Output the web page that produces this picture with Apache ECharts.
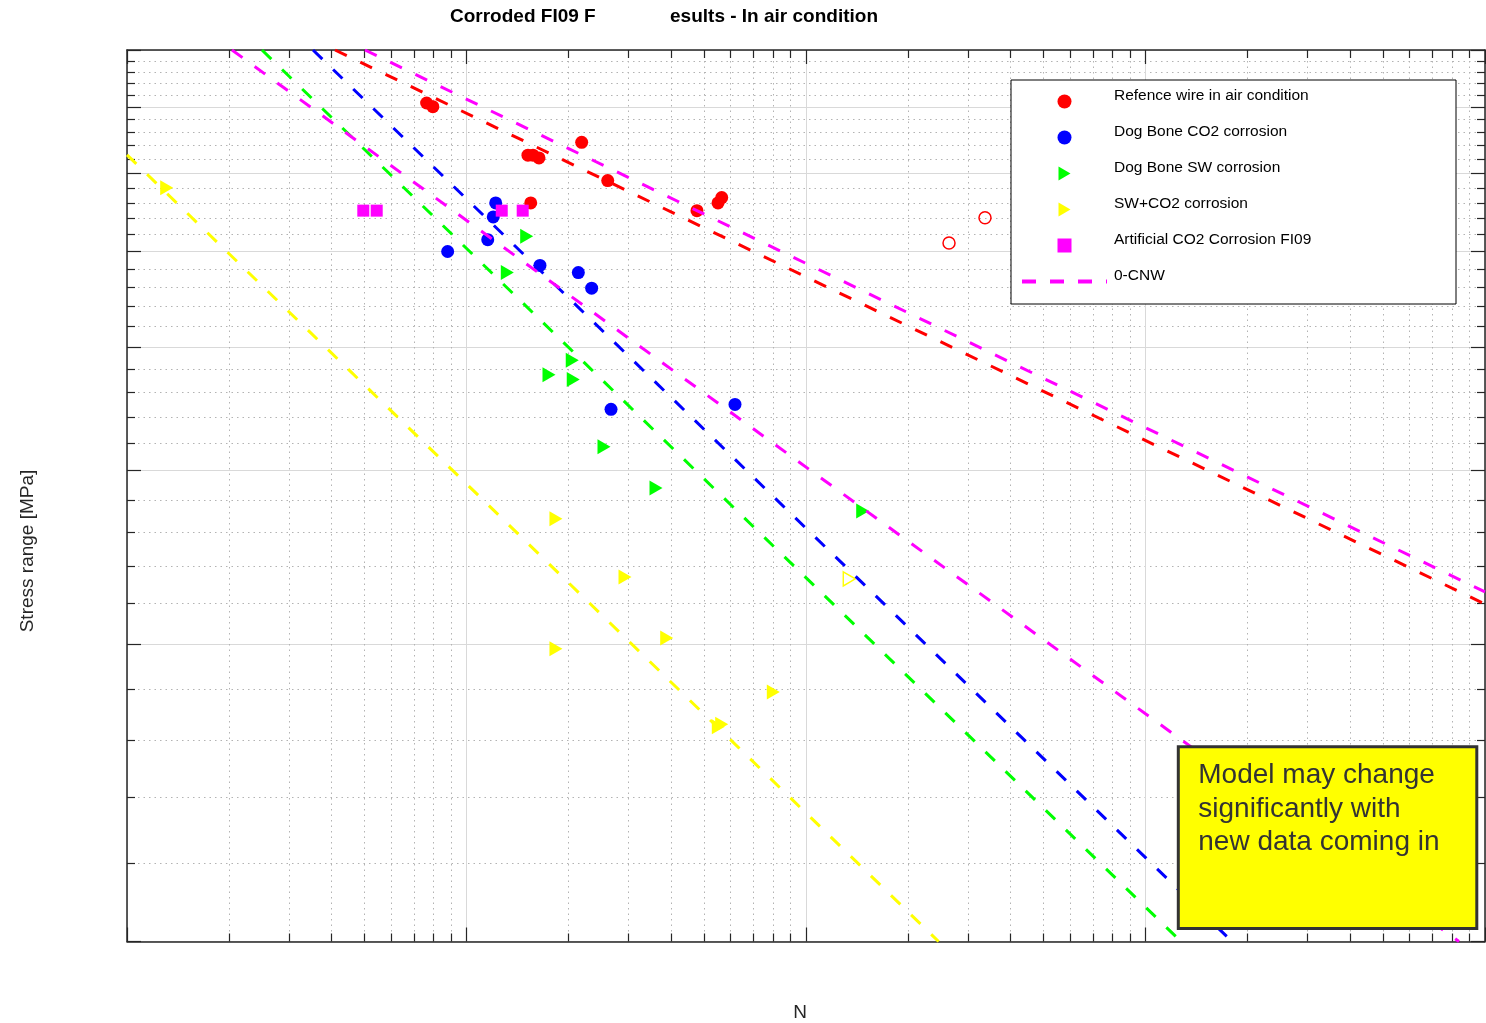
<!DOCTYPE html>
<html>
<head>
<meta charset="utf-8">
<script src="https://cdn.jsdelivr.net/npm/echarts@6/dist/echarts.min.js"></script>
<style>html,body{margin:0;padding:0;background:#fff}#c{width:1486px;height:1023px}</style>
</head>
<body>
<div id="c"></div>
<script>
// ---------- texts ----------
const TITLE_LEFT = 'Corroded FI09 F';
const TITLE_RIGHT = 'esults - In air condition';
const X_NAME = 'N';
const Y_NAME = 'Stress range [MPa]';
const NOTE = ['Model may change', 'significantly with', 'new data coming in'];
const NAMES = ['Refence wire in air condition', 'Dog Bone CO2 corrosion', 'Dog Bone SW corrosion',
               'SW+CO2 corrosion', 'Artificial CO2 Corrosion FI09', '0-CNW'];

// ---------- tick values ----------
const X_MAJOR = [1e4, 1e5, 1e6, 1e7, 1e8];
const X_MINOR = [2e4, 3e4, 4e4, 5e4, 6e4, 7e4, 8e4, 9e4,
                 2e5, 3e5, 4e5, 5e5, 6e5, 7e5, 8e5, 9e5,
                 2e6, 3e6, 4e6, 5e6, 6e6, 7e6, 8e6, 9e6,
                 2e7, 3e7, 4e7, 5e7, 6e7, 7e7, 8e7, 9e7];
const Y_MAJOR = [100, 200, 300, 400, 500, 600, 700, 800];
const Y_MINOR = [120, 140, 160, 180, 220, 240, 260, 280, 320, 340, 360, 380, 420, 440, 460, 480,
                 520, 540, 560, 580, 620, 640, 660, 680, 720, 740, 760, 780];

// ---------- data [N, stress range MPa] ----------
const refWire = [[76300, 707], [79600, 701], [151700, 626], [157000, 626], [163500, 622], [218400, 645],
                 [260600, 590], [154600, 560], [477300, 550], [550600, 560], [564600, 567]];
const refWireRunout = [[2638000, 510], [3367000, 541]];
const dogBoneCO2 = [[121900, 560], [119900, 542], [115500, 514], [88000, 500], [164600, 484],
                    [213500, 476], [233700, 459], [266500, 346], [617800, 350]];
const dogBoneSW = [[150400, 518], [131900, 476], [204900, 388], [175000, 375], [206300, 371],
                   [254100, 317], [361500, 288], [1469000, 273]];
const swCO2 = [[13090, 580], [183400, 268], [293000, 234], [388800, 203], [183400, 198],
               [551700, 165], [564600, 166], [801100, 179]];
const swCO2Runout = [[1341000, 233]];
const artificialCO2 = [[49660, 550], [54390, 550], [127000, 550], [146400, 550]];

// fitted S-N lines (two end points each)
const fitRef = [[41000, 800], [1e8, 219.7]];
const fitCNWUpper = [[50230, 800], [1e8, 226]];
const fitCO2 = [[35310, 800], [1.798e7, 100]];
const fitSW = [[24980, 800], [1.272e7, 100]];
const fitCNWLower = [[20380, 800], [8.381e7, 100]];
const fitSWCO2 = [[1e4, 626.5], [2.458e6, 100]];

// ---------- styling ----------
const FONT = '"Liberation Sans", Arial, Helvetica, sans-serif';
const AX = '#262626';
const RED = '#ff0000', BLUE = '#0000ff', GREEN = '#00ff00', YELLOW = '#ffff00', MAGENTA = '#ff00ff';
const TRI = 'path://M0,0L12,7L0,14Z';
const SQUARE = 'path://M0,0L10,0L10,10L0,10Z';
const DASH = [13, 15];
const lg = v => Math.log10(v);

function tickAxis(isX, pos, values, len, withLine, split) {
  const ref = isX ? X_MAJOR : Y_MAJOR;
  return {
    type: 'value', position: pos,
    min: lg(ref[0]), max: lg(ref[ref.length - 1]),
    axisLine: {show: withLine, onZero: false, lineStyle: {color: AX, width: 1.5}},
    axisTick: {show: true, inside: true, length: len, customValues: values.map(lg),
               lineStyle: {color: AX, width: 1.2}},
    axisLabel: {show: false},
    splitLine: split ? {show: true, lineStyle: split} : {show: false},
    minorTick: {show: false}, minorSplitLine: {show: false},
    silent: true
  };
}
const MAJOR_GRID = {color: '#d9d9d9', width: 1, type: 'solid'};
const MINOR_GRID = {color: '#b3b3b3', width: 1, type: [1.5, 4]};

function scatter(name, data, symbol, size, color, hollow) {
  return {
    name, type: 'scatter', data, symbol, symbolSize: size, silent: true, z: 2,
    itemStyle: hollow ? {color: 'rgba(0,0,0,0)', borderColor: color, borderWidth: 1.5, opacity: 1}
                      : {color, opacity: 1}
  };
}
function fit(name, data, color) {
  return {
    name, type: 'line', data, symbol: 'none', showSymbol: false, silent: true, z: 3,
    lineStyle: {color, width: 3, type: DASH}, itemStyle: {color}
  };
}

const chart = echarts.init(document.getElementById('c'), null, {renderer: 'canvas'});
chart.setOption({
  animation: false,
  backgroundColor: '#fff',
  title: [
    {text: TITLE_LEFT, left: 450, top: 7, padding: 0,
     textStyle: {fontSize: 19, fontWeight: 'bold', color: '#000', fontFamily: FONT}},
    {text: TITLE_RIGHT, right: 1486 - 878, top: 7, padding: 0,
     textStyle: {fontSize: 19, fontWeight: 'bold', color: '#000', fontFamily: FONT}}
  ],
  grid: {left: 127, right: 1, top: 50, bottom: 81.5, containLabel: false, outerBoundsMode: 'none'},
  xAxis: [
    {type: 'log', logBase: 10, min: X_MAJOR[0], max: X_MAJOR[X_MAJOR.length - 1], show: false},
    tickAxis(true, 'bottom', X_MAJOR, 14, true, MAJOR_GRID),
    tickAxis(true, 'bottom', X_MINOR, 8, false, MINOR_GRID),
    tickAxis(true, 'top', X_MAJOR, 14, true, null),
    tickAxis(true, 'top', X_MINOR, 8, false, null)
  ],
  yAxis: [
    {type: 'log', logBase: 10, min: Y_MAJOR[0], max: Y_MAJOR[Y_MAJOR.length - 1], show: false},
    tickAxis(false, 'left', Y_MAJOR, 14, true, MAJOR_GRID),
    tickAxis(false, 'left', Y_MINOR, 8, false, MINOR_GRID),
    tickAxis(false, 'right', Y_MAJOR, 14, true, null),
    tickAxis(false, 'right', Y_MINOR, 8, false, null)
  ],
  legend: {
    data: NAMES.slice(0, 5).concat([{name: NAMES[5], lineStyle: {width: 4, type: [14, 14]},
                                     itemStyle: {opacity: 0, color: 'rgba(0,0,0,0)', borderWidth: 0}}]),
    orient: 'vertical', left: 1020, top: 87.5, padding: 0,
    itemWidth: 85, itemHeight: 14, itemGap: 15, selectedMode: false,
    formatter: '{t|{name}}',
    textStyle: {fontSize: 15.5, color: '#000', fontFamily: FONT,
                rich: {t: {fontSize: 15.5, color: '#000', fontFamily: FONT, padding: [0, 0, 12, 2]}}},
    z: 5
  },
  series: [
    scatter(NAMES[0], refWire, 'circle', 13, RED, false),
    scatter(NAMES[0], refWireRunout, 'circle', 12, RED, true),
    scatter(NAMES[1], dogBoneCO2, 'circle', 13, BLUE, false),
    scatter(NAMES[2], dogBoneSW, TRI, [13, 15], GREEN, false),
    scatter(NAMES[3], swCO2, TRI, [13, 15], YELLOW, false),
    scatter(NAMES[3], swCO2Runout, TRI, [12, 14], YELLOW, true),
    scatter(NAMES[4], artificialCO2, SQUARE, 12, MAGENTA, false),
    fit('Reference fit', fitRef, RED),
    fit(NAMES[5], fitCNWUpper, MAGENTA),
    fit('CO2 fit', fitCO2, BLUE),
    fit('SW fit', fitSW, GREEN),
    fit(NAMES[5], fitCNWLower, MAGENTA),
    fit('SW+CO2 fit', fitSWCO2, YELLOW)
  ],
  graphic: [
    {type: 'rect', z: 3, silent: true, shape: {x: 1011, y: 80, width: 445, height: 224},
     style: {fill: '#fff', stroke: '#000', lineWidth: 1}},
    {type: 'rect', z: 10, silent: true, shape: {x: 1178.3, y: 746.7, width: 298.5, height: 181.7},
     style: {fill: '#ffff00', stroke: '#333', lineWidth: 3}},
    {type: 'text', z: 11, silent: true, x: 1198.3, y: 759,
     style: {text: NOTE.join('\n'), fontSize: 28, fontFamily: FONT, fill: '#333',
             lineHeight: 33.3, verticalAlign: 'top', align: 'left'}},
    {type: 'text', z: 5, silent: true, x: 800, y: 1013,
     style: {text: X_NAME, fontSize: 19, fontFamily: FONT, fill: AX, align: 'center', verticalAlign: 'middle'}},
    {type: 'text', z: 5, silent: true, x: 27.7, y: 551, rotation: Math.PI / 2,
     style: {text: Y_NAME, fontSize: 19, fontFamily: FONT, fill: AX, align: 'center', verticalAlign: 'middle'}}
  ]
});
</script>
</body>
</html>
